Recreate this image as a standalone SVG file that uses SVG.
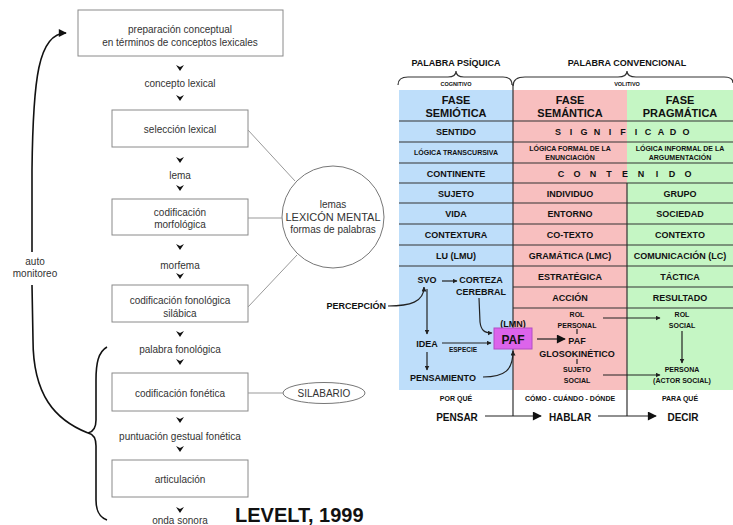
<svg xmlns="http://www.w3.org/2000/svg" width="733" height="525" viewBox="0 0 733 525">
<style>
.box{fill:#fff;stroke:#8a8a8a;stroke-width:1}
.lt{font-family:"Liberation Sans",Arial,sans-serif;font-size:10px;fill:#333;text-anchor:middle}
.ln{fill:none;stroke:#999;stroke-width:1}
.blk{fill:none;stroke:#111;stroke-width:1.6}
.t{font-family:"Liberation Sans",Arial,sans-serif;font-weight:bold;fill:#111;text-anchor:middle}
.f9{font-size:9px}.f7{font-size:7px}.f11{font-size:11px}.f6{font-size:6px}.f10{font-size:10px}
.grid{stroke:#333;stroke-width:1.2;fill:none}
.arr{fill:none;stroke:#222;stroke-width:1.2}
</style>
<defs>
<path id="chev" d="M-4,-3 L0,-1 L4,-3 L0,3 Z" fill="#111"/>
<marker id="ah" viewBox="0 0 10 10" refX="9" refY="5" markerWidth="5" markerHeight="5" orient="auto" markerUnits="userSpaceOnUse"><path d="M0,0 L10,5 L0,10 Z" fill="#222"/></marker>
<marker id="ahB" viewBox="0 0 10 10" refX="9" refY="5" markerWidth="11" markerHeight="9" orient="auto" markerUnits="userSpaceOnUse"><path d="M0,0 L10,5 L0,10 Z" fill="#111"/></marker>
<marker id="ahL" viewBox="0 0 10 10" refX="9" refY="5" markerWidth="9" markerHeight="8" orient="auto" markerUnits="userSpaceOnUse"><path d="M0,0 L10,5 L0,10 Z" fill="#111"/></marker>
</defs>
<rect width="733" height="525" fill="#fff"/>

<!-- LEFT: Levelt -->
<g id="n-preparacion"><rect class="box" x="78" y="10" width="205" height="46"/><text class="lt" x="180" y="32.5">preparación conceptual</text><text class="lt" x="180" y="45.5">en términos de conceptos lexicales</text></g>
<g id="n-concepto"><text class="lt" x="180" y="87">concepto lexical</text></g>
<g id="n-seleccion"><rect class="box" x="112" y="110" width="136" height="37"/><text class="lt" x="180" y="132.5">selección lexical</text></g>
<g id="n-lema"><text class="lt" x="180" y="178.5">lema</text></g>
<g id="n-morfologica"><rect class="box" x="112" y="199" width="136" height="36"/><text class="lt" x="180" y="215.5">codificación</text><text class="lt" x="180" y="227.5">morfológica</text></g>
<g id="n-morfema"><text class="lt" x="180" y="268.5">morfema</text></g>
<g id="n-fonologica"><rect class="box" x="112" y="285" width="136" height="37"/><text class="lt" x="180" y="303.5">codificación fonológica</text><text class="lt" x="180" y="316.5">silábica</text></g>
<g id="n-palabra"><text class="lt" x="180" y="352.5">palabra fonológica</text></g>
<g id="n-fonetica"><rect class="box" x="112" y="373" width="136" height="38"/><text class="lt" x="180" y="396.5">codificación fonética</text></g>
<g id="n-puntuacion"><text class="lt" x="180" y="439.5">puntuación gestual fonética</text></g>
<g id="n-articulacion"><rect class="box" x="112" y="460" width="136" height="37"/><text class="lt" x="180" y="482.5">articulación</text></g>
<g id="n-onda"><text class="lt" x="180" y="524">onda sonora</text></g>
<g id="n-lexicon"><circle cx="333" cy="217" r="51" fill="#fff" stroke="#777" stroke-width="1"/><text class="lt" x="333" y="207.5">lemas</text><text class="lt" x="333" y="221" style="font-size:11px">LEXICÓN MENTAL</text><text class="lt" x="333" y="233">formas de palabras</text></g>
<g id="n-silabario"><ellipse cx="324" cy="393" rx="41" ry="10.5" fill="#fff" stroke="#777" stroke-width="1"/><text class="lt" x="324" y="396.5">SILABARIO</text></g>
<g id="n-auto"><text class="lt" x="35" y="264.5">auto</text><text class="lt" x="35" y="276.5">monitoreo</text></g>
<g id="n-levelt"><text x="235" y="522" font-family="'Liberation Sans',Arial,sans-serif" font-weight="bold" font-size="20" fill="#111">LEVELT, 1999</text></g>

<g id="connectors-left">
<use href="#chev" x="180" y="68"/><use href="#chev" x="180" y="98"/>
<use href="#chev" x="180" y="160"/><use href="#chev" x="180" y="188"/>
<use href="#chev" x="180" y="247"/><use href="#chev" x="180" y="276"/>
<use href="#chev" x="180" y="334"/><use href="#chev" x="180" y="362"/>
<use href="#chev" x="180" y="420"/><use href="#chev" x="180" y="449"/>
<use href="#chev" x="180" y="510"/>
<path class="ln" d="M248,130 L295,181"/>
<path class="ln" d="M248,218 L282,218"/>
<path class="ln" d="M248,307 L297,255"/>
<path class="ln" d="M248,393 L283,393"/>
<path class="blk" d="M107,347 C98,352 96,364 96,380 L96,420 C96,428 93,432 88,433 C93,434 96,438 96,446 L96,500 C96,511 99,517 107,520"/>
<path class="blk" d="M88,433 C55,420 33,395 33,340 L32,285"/>
<path class="blk" d="M32,252 L32,170 C33,80 38,33 66,33" marker-end="url(#ahL)"/>
</g>

<!-- RIGHT: table -->
<g id="header">
<text class="t f9" x="456" y="66">PALABRA PSÍQUICA</text>
<text class="t f9" x="627" y="66">PALABRA CONVENCIONAL</text>
<path class="grid" d="M398,85 Q398,77 408,77 L448,77 Q456,77 456,71 Q456,77 464,77 L503,77 Q512,77 512,85"/>
<path class="grid" d="M513,86 Q513,77 525,77 L618,77 Q627,77 627,71 Q627,77 636,77 L724,77 Q733,77 733,83"/>
<text class="t f6" x="456" y="86" style="font-size:5.5px">COGNITIVO</text>
<text class="t f6" x="627" y="86" style="font-size:5.5px">VOLITIVO</text>
</g>

<g id="table">
<rect x="399" y="90" width="114" height="300" fill="#bedefa"/>
<rect x="513" y="90" width="114" height="300" fill="#f8bfbf"/>
<rect x="627" y="90" width="106" height="300" fill="#c5f6c4"/>
<path class="grid" d="M399,121H733M399,142H733M399,163H733M399,183H733M399,203H733M399,224H733M399,245H733M399,266H733M513,287H733M513,308H733"/>
<path class="grid" d="M513,84V416M627,183V416"/>
</g>

<g id="col-semiotica">
<text class="t f11" x="456" y="104">FASE</text><text class="t f11" x="456" y="117">SEMIÓTICA</text>
<text class="t f9" x="456" y="135">SENTIDO</text>
<text class="t f7" x="456" y="155">LÓGICA TRANSCURSIVA</text>
<text class="t f9" x="456" y="176.5">CONTINENTE</text>
<text class="t f9" x="456" y="196.5">SUJETO</text>
<text class="t f9" x="456" y="217">VIDA</text>
<text class="t f9" x="456" y="238">CONTEXTURA</text>
<text class="t f9" x="456" y="259">LU (LMU)</text>
</g>
<g id="col-semantica">
<text class="t f11" x="570" y="104">FASE</text><text class="t f11" x="570" y="117">SEMÁNTICA</text>
<text class="t f7" x="570" y="150.5">LÓGICA FORMAL DE LA</text><text class="t f7" x="570" y="160">ENUNCIACIÓN</text>
<text class="t f9" x="570" y="196.5">INDIVIDUO</text>
<text class="t f9" x="570" y="217">ENTORNO</text>
<text class="t f9" x="570" y="238">CO-TEXTO</text>
<text class="t f9" x="570" y="259">GRAMÁTICA (LMC)</text>
<text class="t f9" x="570" y="280">ESTRATÉGICA</text>
<text class="t f9" x="570" y="301">ACCIÓN</text>
</g>
<g id="col-pragmatica">
<text class="t f11" x="680" y="104">FASE</text><text class="t f11" x="680" y="117">PRAGMÁTICA</text>
<text class="t f7" x="680" y="150.5">LÓGICA INFORMAL DE LA</text><text class="t f7" x="680" y="160">ARGUMENTACIÓN</text>
<text class="t f9" x="680" y="196.5">GRUPO</text>
<text class="t f9" x="680" y="217">SOCIEDAD</text>
<text class="t f9" x="680" y="238">CONTEXTO</text>
<text class="t f9" x="680" y="259">COMUNICACIÓN (LC)</text>
<text class="t f9" x="680" y="280">TÁCTICA</text>
<text class="t f9" x="680" y="301">RESULTADO</text>
</g>
<g id="significado"><text class="t f9" x="558 571 584 597 610 623 636 648 661 673 686" y="135">SIGNIFICADO</text></g>
<g id="contenido"><text class="t f9" x="561 577 593 609 625 641 657 672 688" y="176.5">CONTENIDO</text></g>

<g id="n-svo"><text class="t f9" x="427" y="283">SVO</text></g>
<g id="n-corteza"><text class="t f9" x="481" y="283">CORTEZA</text><text class="t f9" x="481" y="295">CEREBRAL</text></g>
<g id="n-percepcion"><text class="t f9" x="386" y="309" style="text-anchor:end">PERCEPCIÓN</text></g>
<g id="n-idea"><text class="t f9" x="427" y="346.5">IDEA</text></g>
<g id="n-pensamiento"><text class="t f9" x="443" y="380.5">PENSAMIENTO</text></g>
<g id="n-paf"><text class="t f9" x="513" y="326.5">(LMN)</text><rect x="494" y="328" width="38" height="21" fill="#dc64eb" stroke="#b24cc4" stroke-width="1"/><text class="t" x="513" y="343.5" font-size="12" fill="#222">PAF</text></g>
<g id="n-rolpersonal"><text class="t f7" x="577" y="316.5">ROL</text><text class="t f7" x="577" y="327.5">PERSONAL</text></g>
<g id="n-pafglo"><text class="t f9" x="577" y="343.5">PAF</text><text class="t f9" x="577" y="356.5">GLOSOKINÉTICO</text></g>
<g id="n-sujetosocial"><text class="t f7" x="577" y="371.5">SUJETO</text><text class="t f7" x="577" y="382.5">SOCIAL</text></g>
<g id="n-rolsocial"><text class="t f7" x="682" y="316.5">ROL</text><text class="t f7" x="682" y="327.5">SOCIAL</text></g>
<g id="n-persona"><text class="t f7" x="682" y="371.5">PERSONA</text><text class="t f7" x="682" y="382.5">(ACTOR SOCIAL)</text></g>
<g id="n-porque"><text class="t f7" x="456" y="400.5">POR QUÉ</text></g>
<g id="n-como"><text class="t f7" x="570" y="400.5">CÓMO - CUÁNDO - DÓNDE</text></g>
<g id="n-paraque"><text class="t f7" x="680" y="400.5">PARA QUÉ</text></g>
<g id="n-pensar"><text class="t f10" x="457" y="420.5">PENSAR</text></g>
<g id="n-hablar"><text class="t f10" x="570" y="420.5">HABLAR</text></g>
<g id="n-decir"><text class="t f10" x="683" y="420.5">DECIR</text></g>
<g id="n-especie"><text class="t" x="463" y="352" font-size="6.5">ESPECIE</text></g>

<g id="connectors-right">
<path class="arr" d="M442,281 L457,281" marker-end="url(#ah)"/>
<path class="arr" d="M388,306 C410,306 424,302 424,287" marker-end="url(#ah)"/>
<path class="arr" d="M427,289 L427,334" marker-end="url(#ah)"/>
<path class="arr" d="M479,298 L480,322 C481,330 484,333 492,333" marker-end="url(#ah)"/>
<path class="arr" d="M442,343 L491,343" marker-end="url(#ah)"/>
<path class="arr" d="M427,352 L427,370" marker-end="url(#ah)"/>
<path class="arr" d="M483,377 C505,377 513,370 513,351" marker-end="url(#ah)"/>
<path class="arr" d="M537,339 L565,339" stroke-width="1.6" marker-end="url(#ahB)"/>
<path class="arr" d="M577,329 L577,334" stroke-width="0.8"/>
<path class="arr" d="M577,359 L577,364" stroke-width="0.8"/>
<path class="arr" d="M603,318 L660,318" marker-end="url(#ah)"/>
<path class="arr" d="M682,331 L682,363" marker-end="url(#ah)"/>
<path class="arr" d="M603,375 L660,375" marker-end="url(#ah)"/>
<path class="arr" d="M485,416 L541,416" marker-end="url(#ahB)"/>
<path class="arr" d="M598,416 L656,416" marker-end="url(#ahB)"/>
</g>
</svg>
